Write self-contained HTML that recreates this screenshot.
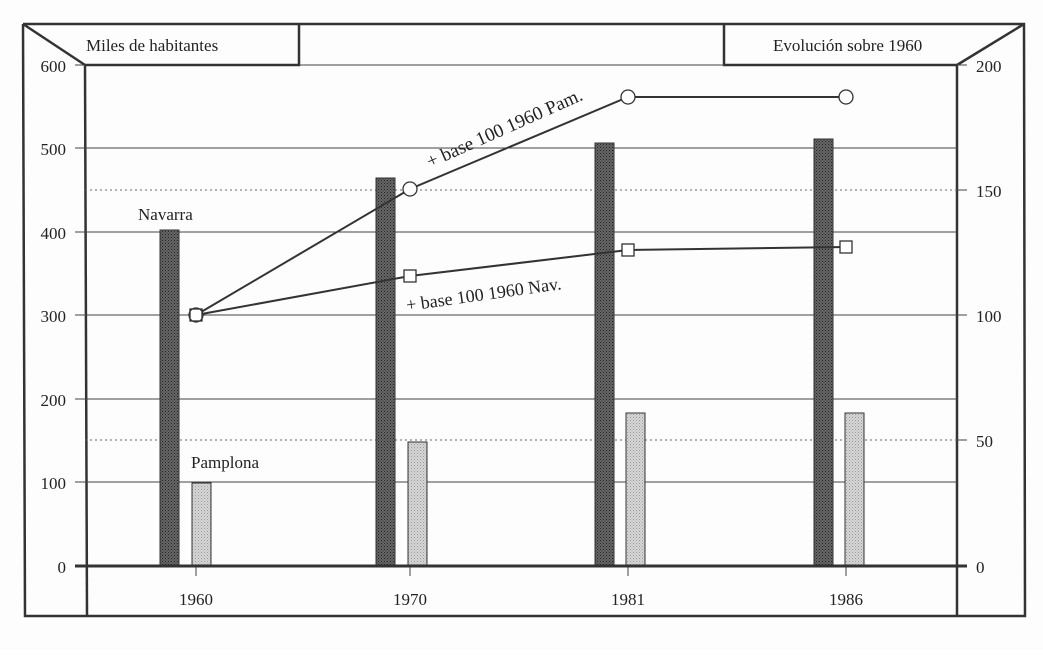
<!DOCTYPE html>
<html><head><meta charset="utf-8"><style>html,body{margin:0;padding:0;background:#fff}</style></head>
<body>
<svg width="1043" height="650" viewBox="0 0 1043 650" xmlns="http://www.w3.org/2000/svg" font-family="Liberation Serif, serif" fill="#222">
<defs>
<pattern id="dk" width="3" height="3" patternUnits="userSpaceOnUse"><rect width="3" height="3" fill="#666"/><rect width="1" height="1" fill="#222"/><rect x="1.5" y="1.5" width="1" height="1" fill="#333"/></pattern>
<pattern id="lt" width="3" height="3" patternUnits="userSpaceOnUse"><rect width="3" height="3" fill="#d6d6d6"/><rect width="1" height="1" fill="#999"/><rect x="1.5" y="1.5" width="1" height="1" fill="#aaa"/></pattern>
</defs>
<rect width="1043" height="650" fill="#fdfdfd"/>
<g stroke="#333" fill="none" stroke-width="2.5">
<polyline points="23,24 1024,24 1025,616 25,616 23,24"/>
<line x1="85" y1="65" x2="87" y2="616"/>
<line x1="957" y1="65" x2="957" y2="616"/>
<line x1="23" y1="24" x2="85" y2="65"/>
<line x1="1024" y1="24" x2="957" y2="65"/>
<polyline points="85,65 299,65 299,24"/>
<polyline points="724,24 724,65 957,65"/>
</g>
<g stroke="#444" stroke-width="1">
<line x1="85" y1="148" x2="957" y2="148"/><line x1="85" y1="232" x2="957" y2="232"/>
<line x1="85" y1="315" x2="957" y2="315"/><line x1="85" y1="399" x2="957" y2="399"/>
<line x1="85" y1="482" x2="957" y2="482"/>
<line x1="299" y1="65" x2="724" y2="65"/>
<line x1="75" y1="65" x2="85" y2="65"/><line x1="75" y1="148" x2="85" y2="148"/><line x1="75" y1="232" x2="85" y2="232"/><line x1="75" y1="315" x2="85" y2="315"/><line x1="75" y1="399" x2="85" y2="399"/><line x1="75" y1="482" x2="85" y2="482"/>
<line x1="957" y1="65" x2="967" y2="65"/><line x1="957" y1="190" x2="967" y2="190"/><line x1="957" y1="315" x2="967" y2="315"/><line x1="957" y1="440" x2="967" y2="440"/>
<line x1="196" y1="566" x2="196" y2="576"/><line x1="410" y1="566" x2="410" y2="576"/><line x1="628" y1="566" x2="628" y2="576"/><line x1="846" y1="566" x2="846" y2="576"/>
</g>
<g stroke="#666" stroke-width="1" stroke-dasharray="2,3">
<line x1="85" y1="190" x2="957" y2="190"/><line x1="85" y1="440" x2="957" y2="440"/>
</g>
<g stroke="#333" stroke-width="1">
<rect x="160" y="230" width="19" height="336" fill="url(#dk)"/>
<rect x="376" y="178" width="19" height="388" fill="url(#dk)"/>
<rect x="595" y="143" width="19" height="423" fill="url(#dk)"/>
<rect x="814" y="139" width="19" height="427" fill="url(#dk)"/>
<rect x="192" y="483" width="19" height="83" fill="url(#lt)"/>
<rect x="408" y="442" width="19" height="124" fill="url(#lt)"/>
<rect x="626" y="413" width="19" height="153" fill="url(#lt)"/>
<rect x="845" y="413" width="19" height="153" fill="url(#lt)"/>
</g>
<line x1="75" y1="566" x2="967" y2="566" stroke="#333" stroke-width="3"/>
<g stroke="#333" stroke-width="2" fill="none">
<polyline points="196,315 410,189 628,97 846,97"/>
<polyline points="196,315 410,276 628,250 846,247"/>
</g>
<g stroke="#333" stroke-width="1.3" fill="#fff">
<circle cx="196" cy="315" r="7"/><circle cx="410" cy="189" r="7"/><circle cx="628" cy="97" r="7"/><circle cx="846" cy="97" r="7"/>
<rect x="190" y="309" width="12" height="12" fill="none"/><rect x="404" y="270" width="12" height="12"/><rect x="622" y="244" width="12" height="12"/><rect x="840" y="241" width="12" height="12"/>
</g>
<g font-size="17" fill="#222">
<text x="86" y="51">Miles de habitantes</text>
<text x="773" y="51">Evolución sobre 1960</text>
<text x="138" y="220">Navarra</text>
<text x="191" y="468">Pamplona</text>
<g text-anchor="end">
<text x="66" y="72">600</text><text x="66" y="155">500</text><text x="66" y="239">400</text><text x="66" y="322">300</text><text x="66" y="406">200</text><text x="66" y="489">100</text><text x="66" y="573">0</text>
</g>
<text x="976" y="72">200</text><text x="976" y="197">150</text><text x="976" y="322">100</text><text x="976" y="447">50</text><text x="976" y="573">0</text>
<g text-anchor="middle">
<text x="196" y="605">1960</text><text x="410" y="605">1970</text><text x="628" y="605">1981</text><text x="846" y="605">1986</text>
</g>
<text font-size="19" transform="translate(430,168) rotate(-24)">+ base 100 1960 Pam.</text>
<text font-size="18" transform="translate(407,311) rotate(-8)">+ base 100 1960 Nav.</text>
</g>
</svg>
</body></html>
